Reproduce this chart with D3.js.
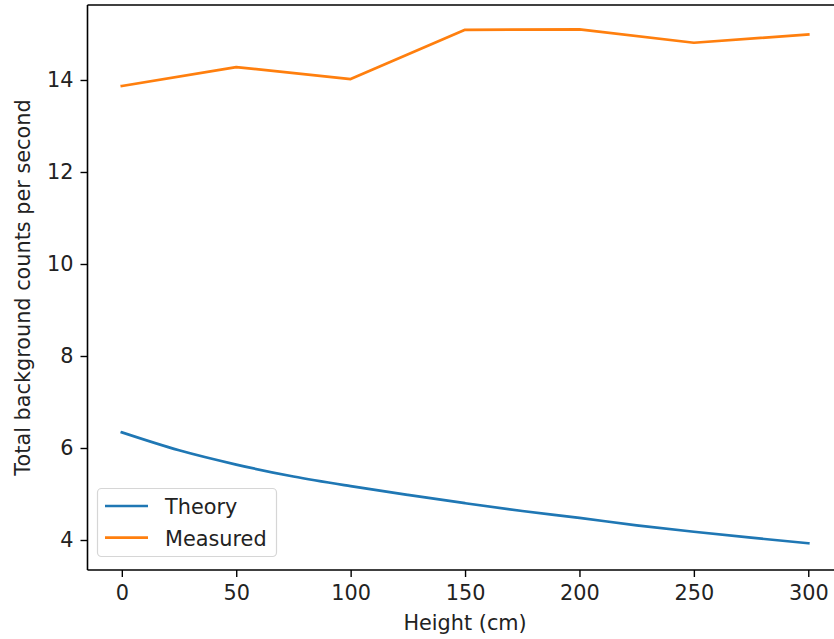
<!DOCTYPE html>
<html>
<head>
<meta charset="utf-8">
<script src="https://cdn.jsdelivr.net/npm/d3@7"></script>
<style>
  html, body { margin: 0; padding: 0; background: #fff; }
  svg { display: block; font-family: "DejaVu Sans", sans-serif; }
</style>
</head>
<body>
<svg id="chart" width="834" height="639"></svg>
<script>
// ---- data ----
const heights = [0, 50, 100, 150, 200, 250, 300];
const measured = [13.87, 14.28, 14.02, 15.09, 15.10, 14.81, 14.99];
const theoryHeights = [0, 25, 50, 75, 100, 125, 150, 175, 200, 225, 250, 275, 300];
const theory = [6.34, 5.95, 5.64, 5.38, 5.17, 4.98, 4.80, 4.63, 4.48, 4.32, 4.18, 4.05, 3.93];
const xTicks = [0, 50, 100, 150, 200, 250, 300];
const yTicks = [4, 6, 8, 10, 12, 14];
const seriesNames = ["Theory", "Measured"];
const colors = ["#1f77b4", "#ff7f0e"];

(function () {
const svg = d3.select("#chart");
const pLeft = 87.5, pTop = 5, pRight = 842.6, pBottom = 570;
const fontSize = 20.8;

const x = d3.scaleLinear().domain([-15, 315]).range([pLeft, pRight]);
const y = d3.scaleLinear().domain([3.348, 15.63]).range([pBottom, pTop]);

// lines
const theoryPts = theoryHeights.map((h, i) => [h, theory[i]]);
const measPts = heights.map((h, i) => [h, measured[i]]);

const theoryLine = d3.line().x(d => x(d[0])).y(d => y(d[1])).curve(d3.curveMonotoneX);
const measLine = d3.line().x(d => x(d[0])).y(d => y(d[1]));

svg.append("path").datum(theoryPts)
  .attr("d", theoryLine)
  .attr("fill", "none").attr("stroke", colors[0]).attr("stroke-width", 2.7)
  .attr("stroke-linecap", "square");
svg.append("path").datum(measPts)
  .attr("d", measLine)
  .attr("fill", "none").attr("stroke", colors[1]).attr("stroke-width", 2.7)
  .attr("stroke-linecap", "square").attr("stroke-linejoin", "round");

// axes
const xAxis = d3.axisBottom(x).tickValues(xTicks).tickSize(7).tickPadding(8);
const yAxis = d3.axisLeft(y).tickValues(yTicks).tickSize(7).tickPadding(7);

const gx = svg.append("g").attr("transform", `translate(0,${pBottom})`).call(xAxis);
const gy = svg.append("g").attr("transform", `translate(${pLeft},0)`).call(yAxis);
[gx, gy].forEach(g => {
  g.select(".domain").remove();
  g.selectAll(".tick line").attr("stroke", "#000").attr("stroke-width", 1.4);
  g.selectAll(".tick text").attr("fill", "#222").style("font-size", fontSize + "px")
    .style("font-family", "DejaVu Sans");
});

// spines
const sp = svg.append("g").attr("stroke", "#000").attr("stroke-width", 1.6).attr("fill", "none");
sp.append("line").attr("x1", pLeft).attr("x2", pLeft).attr("y1", pTop).attr("y2", pBottom);
sp.append("line").attr("x1", pLeft).attr("x2", pRight).attr("y1", pBottom).attr("y2", pBottom);
sp.append("line").attr("x1", pLeft).attr("x2", pRight).attr("y1", pTop).attr("y2", pTop);
sp.append("line").attr("x1", pRight).attr("x2", pRight).attr("y1", pTop).attr("y2", pBottom);

// axis labels
svg.append("text").text("Height (cm)")
  .attr("x", (pLeft + pRight) / 2).attr("y", 630)
  .attr("text-anchor", "middle").attr("fill", "#222").style("font-size", fontSize + "px");
svg.append("text").text("Total background counts per second")
  .attr("transform", `translate(30,${(pTop + pBottom) / 2}) rotate(-90)`)
  .attr("text-anchor", "middle").attr("fill", "#222").style("font-size", fontSize + "px");

// legend
const lg = svg.append("g");
lg.append("rect").attr("x", 97.5).attr("y", 488.5).attr("width", 179).attr("height", 68)
  .attr("rx", 4).attr("fill", "rgba(255,255,255,0.8)").attr("stroke", "#d6d6d6").attr("stroke-width", 1.2);
seriesNames.forEach((name, i) => {
  const yy = 506 + i * 31.7;
  lg.append("line").attr("x1", 105).attr("x2", 148).attr("y1", yy).attr("y2", yy)
    .attr("stroke", colors[i]).attr("stroke-width", 2.7);
  lg.append("text").text(name).attr("x", 165).attr("y", yy + 8)
    .attr("fill", "#222").style("font-size", fontSize + "px");
});
})();
</script>
</body>
</html>
